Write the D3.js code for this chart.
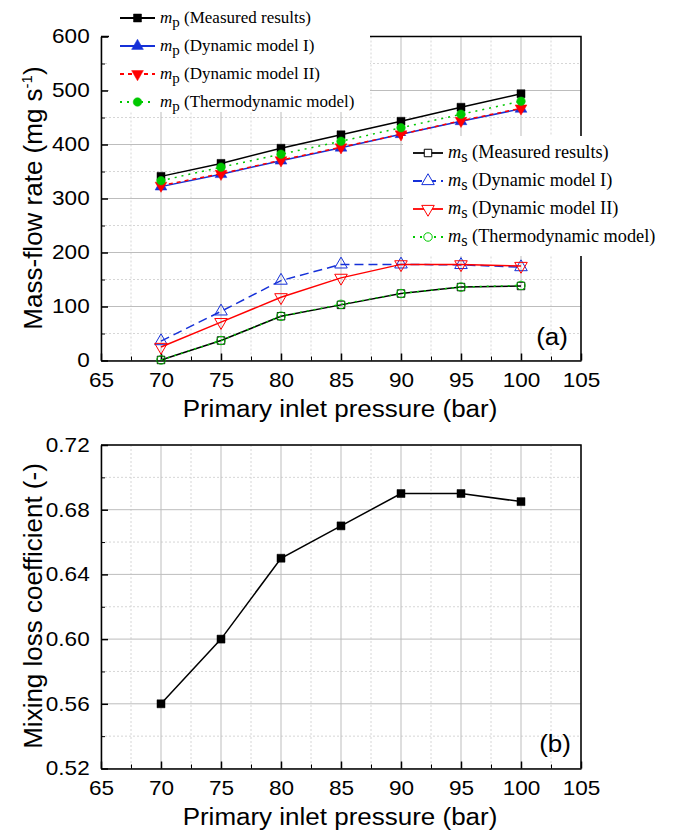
<!DOCTYPE html>
<html>
<head>
<meta charset="utf-8">
<script src="https://cdn.jsdelivr.net/npm/d3@7"></script>
<style>
  body { margin: 0; background: #fff; }
  svg { display: block; }
</style>
</head>
<body>
<script>
'use strict';

// primary inlet pressure (bar)
const pressure = [70, 75, 80, 85, 90, 95, 100];

// primary mass-flow rate (mg/s)
const mpMeasured = [341, 365, 393, 418, 443, 469, 494];
const mpDynamic1 = [322, 345, 370, 394, 419, 443, 466];
const mpDynamic2 = [324, 346, 371, 395, 419, 444, 467];
const mpThermo = [333, 358, 382, 406, 431, 456, 480];

// secondary mass-flow rate (mg/s)
const msMeasured = [1, 37, 82, 103, 124, 136, 138];
const msDynamic1 = [36, 91, 148, 178, 178, 177, 173];
const msDynamic2 = [25, 71, 117, 153, 178, 178, 175];
const msThermo = [1, 37, 82, 104, 124, 136, 139];

// mixing loss coefficient (-)
const mixingLoss = [0.56, 0.60, 0.65, 0.67, 0.69, 0.69, 0.685];

// tick labels
const xTicks = [65, 70, 75, 80, 85, 90, 95, 100, 105];
const flowTicks = [0, 100, 200, 300, 400, 500, 600];
const lossTicks = [0.52, 0.56, 0.60, 0.64, 0.68, 0.72];

(function() {

  const stretch = 'scale(1.13,1)'; // sans text in the figure is a bit wide
  const sans = '"Liberation Sans", Arial, sans-serif';
  const serif = '"Liberation Serif", "Times New Roman", serif';

  const svg = d3.select('body').append('svg')
    .attr('width', 675)
    .attr('height', 833);

  // shared x scale range for both panels
  const plotLeft = 101, plotRight = 581;

  // series styles for panel (a)
  const flowSeries = [
    { sub: 'p', name: '(Measured results)', values: mpMeasured, color: '#000', dash: null, symbol: d3.symbolSquare, size: 64, filled: true },
    { sub: 'p', name: '(Dynamic model I)', values: mpDynamic1, color: '#1530d8', dash: null, symbol: d3.symbolTriangle, size: 60, filled: true },
    { sub: 'p', name: '(Dynamic model II)', values: mpDynamic2, color: '#ff0000', dash: '4,4', symbol: d3.symbolTriangle, size: 60, filled: true, flip: true },
    { sub: 'p', name: '(Thermodynamic model)', values: mpThermo, color: '#00c800', dash: '2,5', symbol: d3.symbolCircle, size: 58, filled: true },
    { sub: 's', name: '(Measured results)', values: msMeasured, color: '#000', dash: null, symbol: d3.symbolSquare, size: 56, filled: false },
    { sub: 's', name: '(Dynamic model I)', values: msDynamic1, color: '#1530d8', dash: '9,5', symbol: d3.symbolTriangle, size: 68, filled: false },
    { sub: 's', name: '(Dynamic model II)', values: msDynamic2, color: '#ff0000', dash: null, symbol: d3.symbolTriangle, size: 68, filled: false, flip: true },
    { sub: 's', name: '(Thermodynamic model)', values: msThermo, color: '#00c800', dash: '2,5', symbol: d3.symbolCircle, size: 56, filled: false }
  ];

  // draw panel (a)
  let top = makePanel(36.5, 360.5, [0, 600], flowTicks, 50, d => d);
  flowSeries.forEach(s => plotSeries(top, s));

  // legend boxes hide the grid behind them
  svg.append('rect').attr('x', 109).attr('y', 0).attr('width', 261).attr('height', 112).attr('fill', '#fff');
  svg.append('rect').attr('x', 403).attr('y', 136).attr('width', 272).attr('height', 120).attr('fill', '#fff');
  drawLegend(flowSeries.slice(0, 4), 120, 155, 160, 18, 28, 17);
  drawLegend(flowSeries.slice(4), 413, 443, 448, 153, 28, 18.3);

  yTitle(198, 'Mass-flow rate (mg s', '-1', ')');
  xTitle(417);
  panelTag('(a)', 552, 345);

  // draw panel (b)
  let bottom = makePanel(445, 768.5, [0.52, 0.72], lossTicks, 0.02, d3.format('.2f'));
  plotSeries(bottom, { values: mixingLoss, color: '#000', dash: null, symbol: d3.symbolSquare, size: 64, filled: true });
  yTitle(606, 'Mixing loss coefficient (-)', '', '');
  xTitle(825);
  panelTag('(b)', 555, 752);

  // build grid, frame and axes for one panel, return its scales
  function makePanel(y0, y1, yDomain, yTicks, yMinorStep, fmt) {
    let x = d3.scaleLinear().domain([65, 105]).range([plotLeft, plotRight]);
    let y = d3.scaleLinear().domain(yDomain).range([y1, y0]);
    let g = svg.append('g');

    let xMinor = xTicks.slice(1).map(v => v - 2.5);
    let yMinor = yTicks.slice(1).map(v => v - yMinorStep);

    // minor grid (dotted)
    g.selectAll('.vminor').data(xMinor).enter().append('line')
      .attr('x1', d => x(d)).attr('x2', d => x(d)).attr('y1', y0).attr('y2', y1)
      .attr('stroke', '#d6d6d6').attr('stroke-dasharray', '2,2');
    g.selectAll('.hminor').data(yMinor).enter().append('line')
      .attr('x1', plotLeft).attr('x2', plotRight).attr('y1', d => y(d)).attr('y2', d => y(d))
      .attr('stroke', '#d6d6d6').attr('stroke-dasharray', '2,2');
    // major grid
    g.selectAll('.vmajor').data(xTicks).enter().append('line')
      .attr('x1', d => x(d)).attr('x2', d => x(d)).attr('y1', y0).attr('y2', y1)
      .attr('stroke', '#bdbdbd');
    g.selectAll('.hmajor').data(yTicks).enter().append('line')
      .attr('x1', plotLeft).attr('x2', plotRight).attr('y1', d => y(d)).attr('y2', d => y(d))
      .attr('stroke', '#bdbdbd');

    // top and right frame
    g.append('path')
      .attr('d', `M${plotLeft},${y0}H${plotRight}V${y1}`)
      .attr('fill', 'none').attr('stroke', '#000').attr('stroke-width', 1.5);

    // bottom axis with inward ticks
    let xAxis = g.append('g').attr('transform', `translate(0,${y1})`)
      .call(d3.axisBottom(x).tickValues(xTicks).tickSizeInner(-7).tickSizeOuter(0).tickPadding(12));
    g.append('g').attr('transform', `translate(0,${y1})`)
      .call(d3.axisBottom(x).tickValues(xMinor).tickSizeInner(-4).tickSizeOuter(0).tickFormat(''))
      .select('.domain').remove();

    // left axis with inward ticks
    let yAxis = g.append('g').attr('transform', `translate(${plotLeft},0)`)
      .call(d3.axisLeft(y).tickValues(yTicks).tickSizeInner(-7).tickSizeOuter(0).tickPadding(10).tickFormat(fmt));
    g.append('g').attr('transform', `translate(${plotLeft},0)`)
      .call(d3.axisLeft(y).tickValues(yMinor).tickSizeInner(-4).tickSizeOuter(0).tickFormat(''))
      .select('.domain').remove();

    [xAxis, yAxis].forEach(a => {
      a.selectAll('.domain').attr('stroke-width', 1.5);
      a.selectAll('line').attr('stroke-width', 1.5);
      a.selectAll('text')
        .style('font-family', sans)
        .style('font-size', '20px')
        .attr('fill', '#000')
        .attr('transform', stretch);
    });

    return { x: x, y: y };
  }

  // line + markers for one series
  function plotSeries(scales, s) {
    let pts = pressure.map((p, i) => [p, s.values[i]]);
    let line = d3.line().x(d => scales.x(d[0])).y(d => scales.y(d[1]));

    svg.append('path')
      .datum(pts)
      .attr('d', line)
      .attr('fill', 'none')
      .attr('stroke', s.color)
      .attr('stroke-width', 1.5)
      .attr('stroke-dasharray', s.dash);

    svg.selectAll(null)
      .data(pts)
      .enter()
      .append('path')
        .attr('d', d3.symbol().type(s.symbol).size(s.size))
        .attr('transform', d => `translate(${scales.x(d[0])},${scales.y(d[1])})` + (s.flip ? 'rotate(180)' : ''))
        .attr('fill', s.filled ? s.color : 'none')
        .attr('stroke', s.color)
        .attr('stroke-width', s.filled ? 0.5 : 1);
  }

  // legend rows: sample line, marker, "m_sub (name)"
  function drawLegend(series, lx0, lx1, tx, ty, step, fs) {
    series.forEach((s, i) => {
      let yy = ty + i * step;
      svg.append('line')
        .attr('x1', lx0).attr('x2', lx1).attr('y1', yy).attr('y2', yy)
        .attr('stroke', s.color).attr('stroke-width', 1.8)
        .attr('stroke-dasharray', s.dash);
      svg.append('path')
        .attr('d', d3.symbol().type(s.symbol).size(s.size))
        .attr('transform', `translate(${(lx0 + lx1) / 2},${yy})` + (s.flip ? 'rotate(180)' : ''))
        .attr('fill', s.filled ? s.color : '#fff')
        .attr('stroke', s.color)
        .attr('stroke-width', s.filled ? 0.5 : 1);

      let t = svg.append('text')
        .attr('x', tx).attr('y', yy + 5)
        .style('font-family', serif)
        .style('font-size', fs + 'px');
      t.append('tspan').style('font-style', 'italic').text('m');
      t.append('tspan').attr('dy', 4).style('font-size', (fs - 2) + 'px').text(s.sub);
      t.append('tspan').attr('dy', -4).text(' ' + s.name);
    });
  }

  // rotated y-axis title, optional superscript
  function yTitle(cy, main, sup, tail) {
    let t = svg.append('text')
      .attr('transform', `translate(41.5,${cy})rotate(-90)`)
      .attr('text-anchor', 'middle')
      .style('font-family', sans)
      .style('font-size', '26px')
      .text(main);
    if (sup) {
      t.append('tspan').attr('dy', -10).style('font-size', '15px').text(sup);
      t.append('tspan').attr('dy', 10).text(tail);
    }
  }

  function xTitle(baseline) {
    svg.append('text')
      .attr('transform', `translate(${(plotLeft + plotRight) / 2 - 1},${baseline})` + stretch)
      .attr('text-anchor', 'middle')
      .style('font-family', sans)
      .style('font-size', '23px')
      .text('Primary inlet pressure (bar)');
  }

  function panelTag(label, x, y) {
    svg.append('text')
      .attr('transform', `translate(${x},${y})` + stretch)
      .attr('text-anchor', 'middle')
      .style('font-family', sans)
      .style('font-size', '23px')
      .text(label);
  }

})();
</script>
</body>
</html>
